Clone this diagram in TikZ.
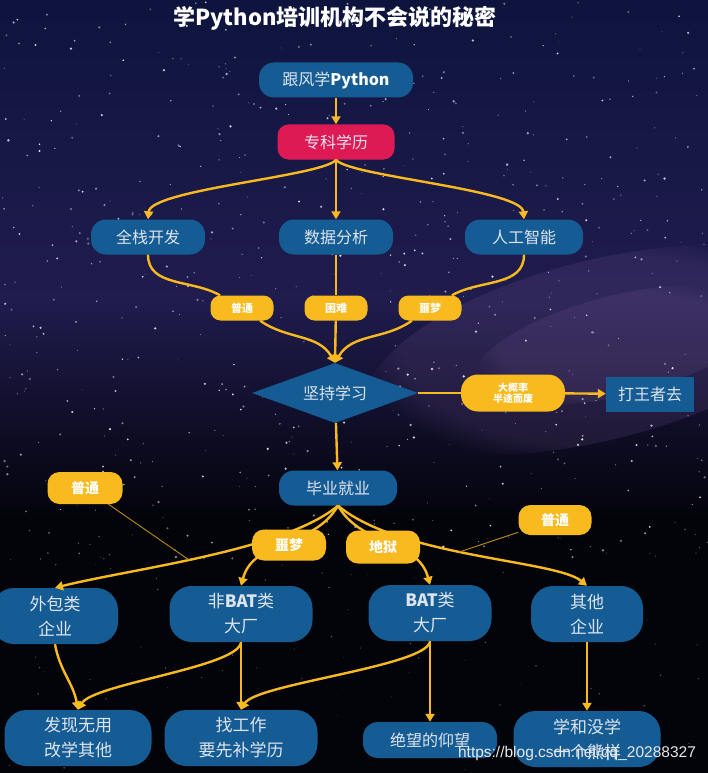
\documentclass[tikz,border=0pt]{standalone}
\usepackage{fontspec}
\setmainfont{Noto Sans CJK SC}
\newfontfamily\wmfont{Liberation Sans}
\usetikzlibrary{shapes.geometric,arrows.meta,fadings}
\definecolor{boxblue}{RGB}{21,92,148}
\definecolor{boxred}{RGB}{222,26,84}
\definecolor{tagyel}{RGB}{248,186,30}
\definecolor{skytop}{RGB}{14,20,62}
\definecolor{skymid}{RGB}{32,28,78}
\definecolor{skybot}{RGB}{3,3,10}
\definecolor{nebula}{RGB}{120,90,150}
\definecolor{boxtext}{RGB}{222,228,238}

\begin{document}
\begin{tikzpicture}[x=1pt,y=1pt,>={Triangle[length=8pt,width=9pt]},
   every node/.style={font=\fontsize{16}{19}\selectfont},
   box/.style={fill=boxblue,text=boxtext,rounded corners=15pt,minimum height=35pt,
     align=center,inner sep=2pt},
   twoline/.style={box,minimum height=56pt,rounded corners=22pt,
     font=\fontsize{17}{25}\selectfont},
   tag/.style={fill=tagyel,text=white,rounded corners=10pt,minimum width=63pt,
     minimum height=25pt,inner sep=2pt,font=\fontsize{11}{13}\selectfont\bfseries},
   bigtag/.style={tag,minimum width=74pt,minimum height=31pt,rounded corners=12pt,
     font=\fontsize{14}{16}\selectfont\bfseries},
   link/.style={draw=tagyel,line width=2.4pt},
   thin/.style={draw=tagyel!75!black,line width=0.9pt}]
  \useasboundingbox (0,0) rectangle (708,-773);
  \shade[top color=skytop,bottom color=skymid] (0,0) rectangle (708,-300);
  \shade[top color=skymid,bottom color=skybot] (0,-300) rectangle (708,-520);
  \fill[skybot] (0,-520) rectangle (708,-773);
  \fill[nebula,opacity=.18,path fading=circle with fuzzy edge 20 percent,
    rotate around={14:(600,-350)}] (600,-350) ellipse (240 and 90);
  \fill[nebula,opacity=.18,path fading=circle with fuzzy edge 20 percent,
    rotate around={14:(620,-345)}] (620,-345) ellipse (150 and 50);
  \pgfmathsetseed{42}
  \foreach \k in {1,...,620}{
    \pgfmathsetmacro\sx{708*rnd}
    \pgfmathsetmacro\sy{-560*rnd}
    \pgfmathsetmacro\sr{0.4+0.9*rnd}
    \pgfmathsetmacro\so{0.25+0.65*rnd}
    \fill[white,opacity=\so] (\sx,\sy) circle (\sr);
  }
  \foreach \k in {1,...,120}{
    \pgfmathsetmacro\sx{708*rnd}
    \pgfmathsetmacro\sy{-520-250*rnd}
    \pgfmathsetmacro\sr{0.3+0.6*rnd}
    \fill[white,opacity=.35] (\sx,\sy) circle (\sr);
  }

  \node[font=\fontsize{22}{26}\selectfont\bfseries,text=white] (tt) at (335,-18)
    {学Python培训机构不会说的秘密};
  \node[box,minimum width=154pt] (gf) at (336,-80) {跟风学\textcolor{white}{\bfseries Python}};
  \node[box,fill=boxred,minimum width=117pt,rounded corners=11pt] (zk) at (336,-142) {专科学历};
  \node[box,minimum width=114pt] (qz) at (148,-237) {全栈开发};
  \node[box,minimum width=114pt] (sj) at (336,-237) {数据分析};
  \node[box,minimum width=118pt] (rg) at (524,-237) {人工智能};
  \node[tag] (t1) at (242,-308) {普通};
  \node[tag] (t2) at (336,-308) {困难};
  \node[tag] (t3) at (430,-308) {噩梦};
  \node[diamond,fill=boxblue,text=boxtext,minimum width=166pt,minimum height=60pt,
    inner sep=0pt,aspect=2.7] (jc) at (335,-393) {坚持学习};
  \node[tag,minimum width=104pt,minimum height=37pt,rounded corners=17pt,align=center,
    font=\fontsize{10}{11}\selectfont\bfseries] (dg) at (513,-393) {大概率\\半途而废};
  \node[fill=boxblue,text=boxtext,minimum width=88pt,minimum height=35pt] (wz) at (650,-394) {打王者去};
  \node[box,minimum width=118pt] (by) at (338,-488) {毕业就业};

  \node[twoline,minimum width=126pt] (wb) at (55,-616) {外包类\\企业};
  \node[twoline,minimum width=143pt] (fb) at (241,-614) {非\textbf{BAT}类\\大厂};
  \node[twoline,minimum width=123pt] (bt) at (430,-613) {\textbf{BAT}类\\大厂};
  \node[twoline,minimum width=112pt] (qt) at (587,-614) {其他\\企业};
  \node[twoline,minimum width=147pt] (fx) at (78,-738) {发现无用\\改学其他};
  \node[twoline,minimum width=153pt] (zg) at (241,-738) {找工作\\要先补学历};
  \node[box,minimum width=134pt,minimum height=36pt] (jw) at (430,-740) {绝望的仰望};
  \node[twoline,minimum width=147pt] (xh) at (587,-739) {学和没学\\一个熊样};

  \draw[link,->] (gf) -- (zk);
  \draw[link,->] (zk.south) to[out=-125,in=85,out distance=20pt,in distance=30pt] (qz.north);
  \draw[link,->] (zk.south) -- (sj.north);
  \draw[link,->] (zk.south) to[out=-55,in=95,out distance=20pt,in distance=30pt] (rg.north);
  \draw[link] (qz.south) to[out=-90,in=150] (t1);
  \draw[link,->] (t1) to[out=-35,in=120] (jc.north);
  \draw[link] (sj) -- (t2);
  \draw[link,->] (t2) -- (jc.north);
  \draw[link] (rg.south) to[out=-90,in=30] (t3);
  \draw[link,->] (t3) to[out=-145,in=60] (jc.north);
  \draw[link] (jc) -- (dg);
  \draw[link,->] (dg) -- (wz);
  \draw[link,->] (jc) -- (by);

  \draw[link,->] (by.south) to[out=-140,in=14,out distance=70pt,in distance=80pt]
    coordinate[pos=.55] (c1) (wb.north);
  \draw[link,->] (by.south) to[out=-120,in=75] (fb.north);
  \draw[link,->] (by.south) to[out=-60,in=105] (bt.north);
  \draw[link,->] (by.south) to[out=-40,in=140,out distance=80pt,in distance=40pt]
    coordinate[pos=.45] (c2) (qt.north);
  \node[bigtag] (t4) at (289,-545) {噩梦};
  \node[bigtag,minimum height=33pt] (t5) at (383,-547) {地狱};
  \node[bigtag,minimum width=75pt,minimum height=32pt] (t6) at (85,-488) {普通};
  \node[bigtag,minimum width=73pt,minimum height=30pt] (t7) at (555,-520) {普通};
  \draw[thin] (t6) -- (c1);
  \draw[thin] (t7) -- (c2);

  \draw[link,->] (wb.south) to[out=-80,in=100] (fx.north);
  \draw[link,->] (fb.south) to[out=-95,in=60,out distance=25pt,in distance=30pt] (fx.north);
  \draw[link,->] (fb) -- (zg);
  \draw[link,->] (bt.south) to[out=-95,in=60,out distance=25pt,in distance=30pt] (zg.north);
  \draw[link,->] (bt) -- (jw);
  \draw[link,->] (qt) -- (xh);
  \node[font=\wmfont\fontsize{15.5}{18}\selectfont,text=white!82!gray] (wm) at (577,-753)
    {https://blog.csdn.net/qq\_20288327};
\end{tikzpicture}
\end{document}
